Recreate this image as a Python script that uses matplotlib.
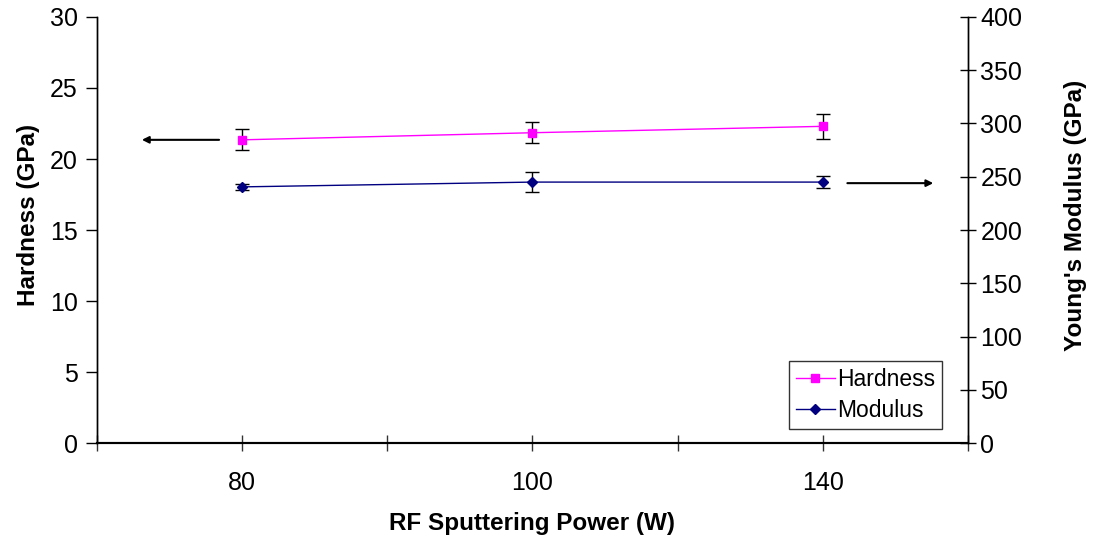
import matplotlib
matplotlib.use("Agg")
import matplotlib.pyplot as plt
import numpy as np

plt.rcParams['font.family'] = ['Liberation Sans', 'DejaVu Sans']

# data
power_labels = ["80", "100", "140"]
hardness = [21.35, 21.85, 22.3]
hardness_err = [0.75, 0.75, 0.9]
modulus = [240.5, 245.0, 245.0]
modulus_err = [3.0, 9.0, 6.0]

x = np.arange(len(power_labels))

fig = plt.figure(figsize=(10.96, 5.39), dpi=100)
ax = fig.add_axes([0.0885, 0.178, 0.7947, 0.7905])
ax2 = ax.twinx()

# hardness on the left axis
ax.errorbar(x, hardness, yerr=hardness_err, fmt='none', ecolor='black',
            elinewidth=1, capsize=5, capthick=1, zorder=2)
h_line, = ax.plot(x, hardness, color='#FF00FF', lw=1, marker='s', ms=6,
                  mfc='#FF00FF', mec='#FF00FF', label='Hardness', zorder=3)

# modulus on the right axis
ax2.errorbar(x, modulus, yerr=modulus_err, fmt='none', ecolor='black',
             elinewidth=1, capsize=5, capthick=1, zorder=2)
m_line, = ax2.plot(x, modulus, color='#000080', lw=1, marker='D', ms=5.5,
                   mfc='#000080', mec='#000080', label='Modulus', zorder=3)

ax.set_xlim(-0.5, 2.5)
ax.set_ylim(0, 30)
ax2.set_ylim(0, 400)
ax.set_yticks(np.arange(0, 31, 5))
ax2.set_yticks(np.arange(0, 401, 50))
ax.set_xticks(x, power_labels)
ax.set_xticks([-0.5, 0.5, 1.5, 2.5], minor=True)

for a in (ax, ax2):
    a.spines['top'].set_visible(False)
    a.spines['left'].set_linewidth(1)
    a.spines['right'].set_linewidth(1)
    a.spines['bottom'].set_linewidth(1.5)

ax.tick_params(axis='x', which='both', direction='inout', length=12, width=1,
               labelsize=18, pad=14, color='#333333')
ax.tick_params(axis='y', direction='out', length=8, width=1, labelsize=18, pad=6)
ax2.tick_params(axis='y', direction='inout', length=12, width=1, labelsize=18, pad=3)

ax.set_xlabel('RF Sputtering Power (W)', fontsize=17.5, fontweight='bold', labelpad=12)
ax.set_ylabel('Hardness (GPa)', fontsize=17.5, fontweight='bold', labelpad=7, y=0.535)
ax2.set_ylabel("Young's Modulus (GPa)", fontsize=17.5, fontweight='bold',
               labelpad=30, y=0.535)

# arrows pointing to the matching axis
arrow_style = dict(arrowstyle='-|>', color='black', lw=1.5, mutation_scale=10)
ax.annotate('', xy=(-0.355, 21.35), xytext=(-0.07, 21.35), arrowprops=arrow_style)
ax2.annotate('', xy=(2.39, 244), xytext=(2.075, 244), arrowprops=arrow_style)

leg = ax2.legend(handles=[h_line, m_line], loc='lower right',
                 bbox_to_anchor=(0.970, 0.033), borderaxespad=0,
                 fontsize=16.5, frameon=True, fancybox=False,
                 edgecolor='black', handlelength=1.7, handletextpad=0.1,
                 borderpad=0.3, labelspacing=0.35)
leg.get_frame().set_linewidth(1)

fig.savefig("out.png", dpi=100)
